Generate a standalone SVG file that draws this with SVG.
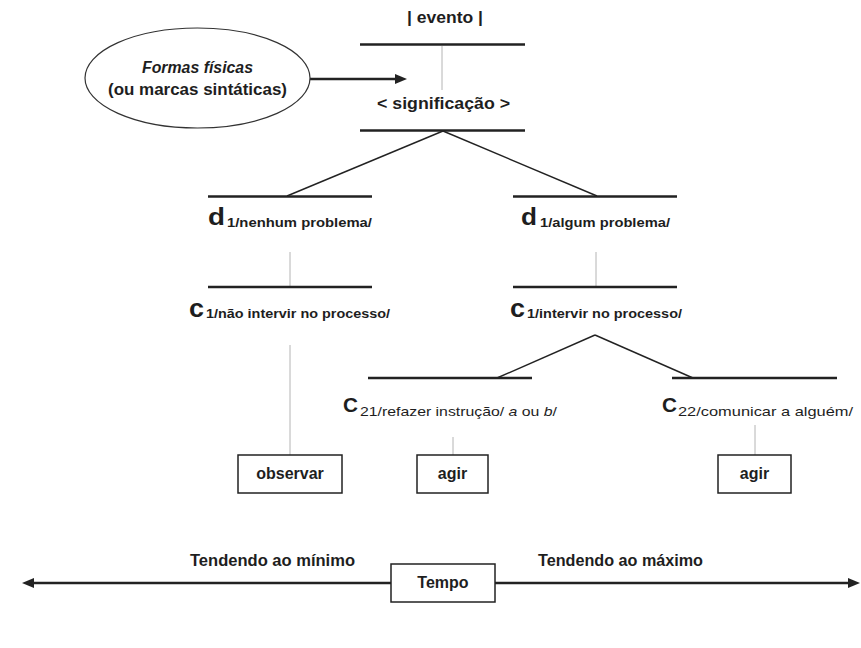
<svg xmlns="http://www.w3.org/2000/svg" width="861" height="648" viewBox="0 0 861 648">
<defs>
<style>
text{font-family:"Liberation Sans",Arial,sans-serif;fill:#1e1e1e;font-weight:bold}
.lbl{font-size:16px}
.big{font-size:23px}
.sub{font-size:13.5px}
.subr{font-size:13.5px;font-weight:normal}
.bar{stroke:#222;stroke-width:2.6;fill:none}
.thin{stroke:#b4b4b4;stroke-width:1;fill:none}
.diag{stroke:#222;stroke-width:1.4;fill:none}
.box{fill:#fff;stroke:#222;stroke-width:1.5}
.arrow{stroke:#222;stroke-width:2.5;fill:none}
</style>
<marker id="ah" viewBox="0 0 12 10" refX="0" refY="5" markerWidth="12" markerHeight="10" markerUnits="userSpaceOnUse" orient="auto-start-reverse">
<path d="M0,0 L12,5 L0,10 z" fill="#222"/>
</marker>
</defs>
<rect width="861" height="648" fill="#fff"/>

<g id="connectors">
<line class="thin" x1="442" y1="46" x2="442" y2="90"/>
<line class="diag" x1="443" y1="131" x2="287" y2="196"/>
<line class="diag" x1="443" y1="131" x2="597" y2="196"/>
<line class="thin" x1="290" y1="252" x2="290" y2="287"/>
<line class="thin" x1="596" y1="252" x2="596" y2="287"/>
<line class="thin" x1="290" y1="345" x2="290" y2="455"/>
<line class="diag" x1="595" y1="335" x2="497" y2="378"/>
<line class="diag" x1="595" y1="335" x2="693" y2="378"/>
<line class="thin" x1="453" y1="437" x2="453" y2="455"/>
<line class="thin" x1="755" y1="425" x2="755" y2="455"/>
<line class="arrow" x1="310" y1="79" x2="395" y2="79" marker-end="url(#ah)"/>
<line class="arrow" x1="34" y1="583" x2="848" y2="583" marker-start="url(#ah)" marker-end="url(#ah)"/>
</g>

<g id="formas">
<ellipse cx="197.5" cy="78" rx="112.5" ry="50" fill="#fff" stroke="#333" stroke-width="1.2"/>
<text class="lbl" x="197.5" y="73" text-anchor="middle" font-style="italic" textLength="111" lengthAdjust="spacingAndGlyphs">Formas físicas</text>
<text class="lbl" x="197.5" y="95" text-anchor="middle" textLength="179" lengthAdjust="spacingAndGlyphs">(ou marcas sintáticas)</text>
</g>

<g id="evento">
<text class="lbl" x="445" y="23" text-anchor="middle" textLength="76" lengthAdjust="spacingAndGlyphs">| evento |</text>
<line class="bar" x1="360" y1="44.5" x2="525" y2="44.5"/>
</g>

<g id="significacao">
<text class="lbl" x="443.5" y="109" text-anchor="middle" textLength="133" lengthAdjust="spacingAndGlyphs">&lt; significação &gt;</text>
<line class="bar" x1="360" y1="130.5" x2="525" y2="130.5"/>
</g>

<g id="d1-nenhum">
<line class="bar" x1="208" y1="196.5" x2="372" y2="196.5"/>
<text class="big" x="208" y="225" textLength="17" lengthAdjust="spacingAndGlyphs">d</text>
<text class="sub" x="227" y="227" textLength="145" lengthAdjust="spacingAndGlyphs">1/nenhum problema/</text>
</g>

<g id="d1-algum">
<line class="bar" x1="513" y1="196.5" x2="677" y2="196.5"/>
<text class="big" x="521" y="225" textLength="16" lengthAdjust="spacingAndGlyphs">d</text>
<text class="sub" x="540" y="227" textLength="130" lengthAdjust="spacingAndGlyphs">1/algum problema/</text>
</g>

<g id="c1-nao">
<line class="bar" x1="208" y1="287" x2="372" y2="287"/>
<text x="189" y="317" font-size="25" textLength="15" lengthAdjust="spacingAndGlyphs">c</text>
<text class="sub" x="206" y="318" textLength="184" lengthAdjust="spacingAndGlyphs">1/não intervir no processo/</text>
</g>

<g id="c1-intervir">
<line class="bar" x1="513" y1="287" x2="677" y2="287"/>
<text x="510" y="317" font-size="25" textLength="15" lengthAdjust="spacingAndGlyphs">c</text>
<text class="sub" x="527" y="318" textLength="155" lengthAdjust="spacingAndGlyphs">1/intervir no processo/</text>
</g>

<g id="c21">
<line class="bar" x1="368" y1="378" x2="532" y2="378"/>
<text x="343" y="412" font-size="21" textLength="15" lengthAdjust="spacingAndGlyphs">C</text>
<text class="subr" x="360" y="416" textLength="197" lengthAdjust="spacingAndGlyphs">21/refazer instrução/ <tspan font-style="italic">a</tspan> ou <tspan font-style="italic">b</tspan>/</text>
</g>

<g id="c22">
<line class="bar" x1="672" y1="378" x2="837" y2="378"/>
<text x="662" y="412" font-size="21" textLength="15" lengthAdjust="spacingAndGlyphs">C</text>
<text class="subr" x="678" y="416" textLength="175" lengthAdjust="spacingAndGlyphs">22/comunicar a alguém/</text>
</g>

<g id="observar">
<rect class="box" x="238" y="455" width="104" height="38"/>
<text class="lbl" x="290" y="479" text-anchor="middle">observar</text>
</g>

<g id="agir1">
<rect class="box" x="417" y="455" width="71" height="38"/>
<text class="lbl" x="452.5" y="479" text-anchor="middle">agir</text>
</g>

<g id="agir2">
<rect class="box" x="718" y="455" width="73" height="38"/>
<text class="lbl" x="754.5" y="479" text-anchor="middle">agir</text>
</g>

<g id="tempo">
<rect class="box" x="391" y="564" width="104" height="38" stroke-width="2.4"/>
<text class="lbl" x="443" y="588" text-anchor="middle">Tempo</text>
</g>

<g id="tendendo-min">
<text class="lbl" x="190" y="566" textLength="165" lengthAdjust="spacingAndGlyphs">Tendendo ao mínimo</text>
</g>
<g id="tendendo-max">
<text class="lbl" x="538" y="566" textLength="165" lengthAdjust="spacingAndGlyphs">Tendendo ao máximo</text>
</g>
</svg>
